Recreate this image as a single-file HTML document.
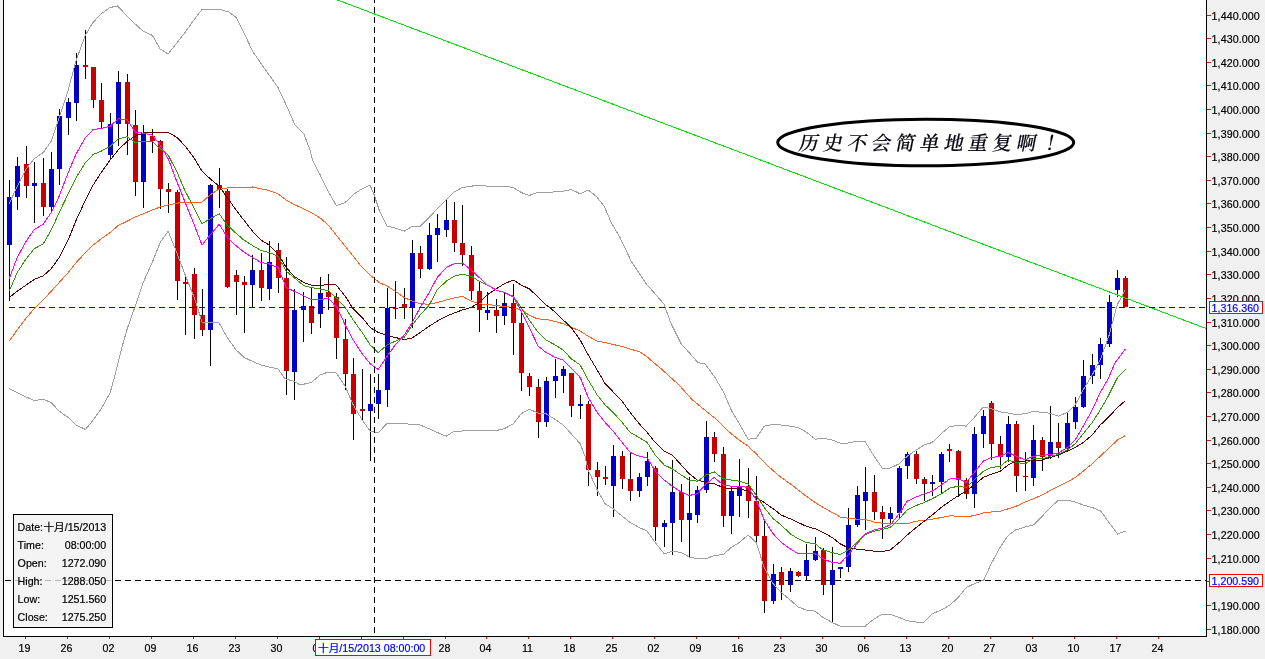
<!DOCTYPE html><html><head><meta charset="utf-8"><title>chart</title><style>
html,body{margin:0;padding:0;background:#f0f0f0;}body{width:1265px;height:659px;overflow:hidden;}svg{display:block}
text{font-family:"Liberation Sans","Noto Sans CJK SC",sans-serif;font-size:10.67px;stroke:#000;stroke-width:.2px}.b{fill:#0000ff;stroke:#0000ff}
.k{font-weight:500;font-family:"Liberation Serif","Noto Serif CJK SC",serif;font-size:19.5px;}
</style></head><body>
<svg width="1265" height="659" viewBox="0 0 1265 659">
<rect x="0" y="0" width="1265" height="659" fill="#f0f0f0"/>
<rect x="4" y="0" width="1202" height="636" fill="#ffffff"/>
<g shape-rendering="crispEdges">
<rect x="9" y="180" width="1" height="121" fill="#000"/>
<rect x="7" y="197" width="5" height="48" fill="#0000c8"/>
<rect x="17" y="157" width="1" height="53" fill="#000"/>
<rect x="15" y="166" width="5" height="31" fill="#0000c8"/>
<rect x="26" y="146" width="1" height="52" fill="#000"/>
<rect x="24" y="164" width="5" height="22" fill="#c80000"/>
<rect x="34" y="162" width="1" height="61" fill="#000"/>
<rect x="32" y="183" width="5" height="3" fill="#0000c8"/>
<rect x="43" y="158" width="1" height="58" fill="#000"/>
<rect x="41" y="183" width="5" height="24" fill="#c80000"/>
<rect x="51" y="152" width="1" height="61" fill="#000"/>
<rect x="49" y="169" width="5" height="38" fill="#0000c8"/>
<rect x="59" y="109" width="1" height="76" fill="#000"/>
<rect x="57" y="116" width="5" height="53" fill="#0000c8"/>
<rect x="68" y="98" width="1" height="37" fill="#000"/>
<rect x="66" y="102" width="5" height="16" fill="#0000c8"/>
<rect x="76" y="53" width="1" height="68" fill="#000"/>
<rect x="74" y="65" width="5" height="38" fill="#0000c8"/>
<rect x="85" y="30" width="1" height="49" fill="#000"/>
<rect x="83" y="65" width="5" height="2" fill="#c80000"/>
<rect x="93" y="67" width="1" height="41" fill="#000"/>
<rect x="91" y="67" width="5" height="33" fill="#c80000"/>
<rect x="101" y="83" width="1" height="45" fill="#000"/>
<rect x="99" y="100" width="5" height="22" fill="#c80000"/>
<rect x="110" y="113" width="1" height="46" fill="#000"/>
<rect x="108" y="124" width="5" height="31" fill="#0000c8"/>
<rect x="118" y="71" width="1" height="75" fill="#000"/>
<rect x="116" y="82" width="5" height="42" fill="#0000c8"/>
<rect x="127" y="74" width="1" height="81" fill="#000"/>
<rect x="125" y="82" width="5" height="42" fill="#c80000"/>
<rect x="135" y="110" width="1" height="86" fill="#000"/>
<rect x="133" y="125" width="5" height="57" fill="#c80000"/>
<rect x="143" y="125" width="1" height="83" fill="#000"/>
<rect x="141" y="133" width="5" height="49" fill="#0000c8"/>
<rect x="152" y="129" width="1" height="24" fill="#000"/>
<rect x="150" y="136" width="5" height="5" fill="#c80000"/>
<rect x="160" y="140" width="1" height="69" fill="#000"/>
<rect x="158" y="141" width="5" height="48" fill="#c80000"/>
<rect x="168" y="183" width="1" height="30" fill="#000"/>
<rect x="166" y="189" width="5" height="3" fill="#c80000"/>
<rect x="177" y="190" width="1" height="110" fill="#000"/>
<rect x="175" y="192" width="5" height="89" fill="#c80000"/>
<rect x="185" y="275" width="1" height="60" fill="#000"/>
<rect x="183" y="282" width="5" height="2" fill="#c80000"/>
<rect x="194" y="268" width="1" height="71" fill="#000"/>
<rect x="192" y="274" width="5" height="41" fill="#c80000"/>
<rect x="202" y="289" width="1" height="47" fill="#000"/>
<rect x="200" y="315" width="5" height="15" fill="#c80000"/>
<rect x="210" y="184" width="1" height="182" fill="#000"/>
<rect x="208" y="185" width="5" height="145" fill="#0000c8"/>
<rect x="219" y="168" width="1" height="40" fill="#000"/>
<rect x="217" y="185" width="5" height="5" fill="#c80000"/>
<rect x="227" y="189" width="1" height="99" fill="#000"/>
<rect x="225" y="191" width="5" height="96" fill="#c80000"/>
<rect x="236" y="270" width="1" height="45" fill="#000"/>
<rect x="234" y="275" width="5" height="7" fill="#c80000"/>
<rect x="244" y="276" width="1" height="57" fill="#000"/>
<rect x="242" y="282" width="5" height="3" fill="#c80000"/>
<rect x="252" y="255" width="1" height="52" fill="#000"/>
<rect x="250" y="270" width="5" height="15" fill="#0000c8"/>
<rect x="261" y="253" width="1" height="48" fill="#000"/>
<rect x="259" y="270" width="5" height="18" fill="#c80000"/>
<rect x="269" y="241" width="1" height="59" fill="#000"/>
<rect x="267" y="262" width="5" height="27" fill="#0000c8"/>
<rect x="278" y="243" width="1" height="50" fill="#000"/>
<rect x="276" y="250" width="5" height="28" fill="#c80000"/>
<rect x="286" y="257" width="1" height="138" fill="#000"/>
<rect x="284" y="278" width="5" height="93" fill="#c80000"/>
<rect x="294" y="289" width="1" height="111" fill="#000"/>
<rect x="292" y="310" width="5" height="62" fill="#0000c8"/>
<rect x="303" y="292" width="1" height="50" fill="#000"/>
<rect x="301" y="306" width="5" height="4" fill="#0000c8"/>
<rect x="311" y="287" width="1" height="47" fill="#000"/>
<rect x="309" y="306" width="5" height="17" fill="#c80000"/>
<rect x="320" y="277" width="1" height="51" fill="#000"/>
<rect x="318" y="293" width="5" height="21" fill="#0000c8"/>
<rect x="328" y="274" width="1" height="36" fill="#000"/>
<rect x="326" y="292" width="5" height="5" fill="#c80000"/>
<rect x="336" y="293" width="1" height="66" fill="#000"/>
<rect x="334" y="297" width="5" height="41" fill="#c80000"/>
<rect x="345" y="319" width="1" height="71" fill="#000"/>
<rect x="343" y="339" width="5" height="35" fill="#c80000"/>
<rect x="353" y="358" width="1" height="82" fill="#000"/>
<rect x="351" y="374" width="5" height="40" fill="#c80000"/>
<rect x="362" y="369" width="1" height="52" fill="#000"/>
<rect x="360" y="409" width="5" height="2" fill="#c80000"/>
<rect x="370" y="374" width="1" height="87" fill="#000"/>
<rect x="368" y="404" width="5" height="7" fill="#0000c8"/>
<rect x="378" y="374" width="1" height="45" fill="#000"/>
<rect x="376" y="390" width="5" height="14" fill="#0000c8"/>
<rect x="387" y="288" width="1" height="119" fill="#000"/>
<rect x="385" y="308" width="5" height="82" fill="#0000c8"/>
<rect x="395" y="281" width="1" height="38" fill="#000"/>
<rect x="393" y="308" width="5" height="1" fill="#c80000"/>
<rect x="404" y="288" width="1" height="31" fill="#000"/>
<rect x="402" y="304" width="5" height="4" fill="#c80000"/>
<rect x="412" y="240" width="1" height="88" fill="#000"/>
<rect x="410" y="253" width="5" height="55" fill="#0000c8"/>
<rect x="420" y="246" width="1" height="32" fill="#000"/>
<rect x="418" y="253" width="5" height="16" fill="#c80000"/>
<rect x="429" y="223" width="1" height="47" fill="#000"/>
<rect x="427" y="235" width="5" height="34" fill="#0000c8"/>
<rect x="437" y="214" width="1" height="48" fill="#000"/>
<rect x="435" y="228" width="5" height="7" fill="#0000c8"/>
<rect x="446" y="199" width="1" height="38" fill="#000"/>
<rect x="444" y="220" width="5" height="10" fill="#0000c8"/>
<rect x="454" y="202" width="1" height="50" fill="#000"/>
<rect x="452" y="220" width="5" height="23" fill="#c80000"/>
<rect x="462" y="205" width="1" height="61" fill="#000"/>
<rect x="460" y="243" width="5" height="12" fill="#c80000"/>
<rect x="471" y="246" width="1" height="54" fill="#000"/>
<rect x="469" y="255" width="5" height="36" fill="#c80000"/>
<rect x="479" y="282" width="1" height="50" fill="#000"/>
<rect x="477" y="291" width="5" height="19" fill="#c80000"/>
<rect x="487" y="292" width="1" height="28" fill="#000"/>
<rect x="485" y="310" width="5" height="3" fill="#0000c8"/>
<rect x="496" y="299" width="1" height="34" fill="#000"/>
<rect x="494" y="310" width="5" height="6" fill="#c80000"/>
<rect x="504" y="293" width="1" height="32" fill="#000"/>
<rect x="502" y="303" width="5" height="13" fill="#0000c8"/>
<rect x="513" y="284" width="1" height="71" fill="#000"/>
<rect x="511" y="303" width="5" height="20" fill="#c80000"/>
<rect x="521" y="310" width="1" height="81" fill="#000"/>
<rect x="519" y="323" width="5" height="50" fill="#c80000"/>
<rect x="529" y="373" width="1" height="23" fill="#000"/>
<rect x="527" y="376" width="5" height="11" fill="#c80000"/>
<rect x="538" y="379" width="1" height="59" fill="#000"/>
<rect x="536" y="387" width="5" height="35" fill="#c80000"/>
<rect x="546" y="377" width="1" height="50" fill="#000"/>
<rect x="544" y="381" width="5" height="41" fill="#0000c8"/>
<rect x="555" y="359" width="1" height="39" fill="#000"/>
<rect x="553" y="376" width="5" height="5" fill="#0000c8"/>
<rect x="563" y="366" width="1" height="27" fill="#000"/>
<rect x="561" y="369" width="5" height="7" fill="#0000c8"/>
<rect x="571" y="373" width="1" height="44" fill="#000"/>
<rect x="569" y="373" width="5" height="33" fill="#c80000"/>
<rect x="580" y="395" width="1" height="24" fill="#000"/>
<rect x="578" y="404" width="5" height="2" fill="#0000c8"/>
<rect x="588" y="401" width="1" height="85" fill="#000"/>
<rect x="586" y="404" width="5" height="66" fill="#c80000"/>
<rect x="597" y="462" width="1" height="34" fill="#000"/>
<rect x="595" y="470" width="5" height="7" fill="#c80000"/>
<rect x="605" y="466" width="1" height="19" fill="#000"/>
<rect x="603" y="477" width="5" height="2" fill="#c80000"/>
<rect x="613" y="445" width="1" height="72" fill="#000"/>
<rect x="611" y="456" width="5" height="30" fill="#0000c8"/>
<rect x="622" y="451" width="1" height="38" fill="#000"/>
<rect x="620" y="456" width="5" height="23" fill="#c80000"/>
<rect x="630" y="452" width="1" height="49" fill="#000"/>
<rect x="628" y="479" width="5" height="12" fill="#c80000"/>
<rect x="639" y="473" width="1" height="24" fill="#000"/>
<rect x="637" y="477" width="5" height="14" fill="#0000c8"/>
<rect x="647" y="452" width="1" height="34" fill="#000"/>
<rect x="645" y="461" width="5" height="16" fill="#0000c8"/>
<rect x="655" y="466" width="1" height="75" fill="#000"/>
<rect x="653" y="468" width="5" height="59" fill="#c80000"/>
<rect x="664" y="520" width="1" height="27" fill="#000"/>
<rect x="662" y="523" width="5" height="4" fill="#0000c8"/>
<rect x="672" y="460" width="1" height="95" fill="#000"/>
<rect x="670" y="492" width="5" height="31" fill="#0000c8"/>
<rect x="681" y="484" width="1" height="58" fill="#000"/>
<rect x="679" y="492" width="5" height="28" fill="#c80000"/>
<rect x="689" y="477" width="1" height="80" fill="#000"/>
<rect x="687" y="513" width="5" height="7" fill="#0000c8"/>
<rect x="697" y="486" width="1" height="37" fill="#000"/>
<rect x="695" y="490" width="5" height="25" fill="#0000c8"/>
<rect x="706" y="421" width="1" height="72" fill="#000"/>
<rect x="704" y="437" width="5" height="53" fill="#0000c8"/>
<rect x="714" y="432" width="1" height="30" fill="#000"/>
<rect x="712" y="437" width="5" height="17" fill="#c80000"/>
<rect x="723" y="447" width="1" height="80" fill="#000"/>
<rect x="721" y="454" width="5" height="62" fill="#c80000"/>
<rect x="731" y="486" width="1" height="48" fill="#000"/>
<rect x="729" y="491" width="5" height="25" fill="#0000c8"/>
<rect x="739" y="459" width="1" height="58" fill="#000"/>
<rect x="737" y="486" width="5" height="10" fill="#0000c8"/>
<rect x="748" y="468" width="1" height="50" fill="#000"/>
<rect x="746" y="486" width="5" height="15" fill="#c80000"/>
<rect x="756" y="476" width="1" height="68" fill="#000"/>
<rect x="754" y="501" width="5" height="35" fill="#c80000"/>
<rect x="764" y="520" width="1" height="93" fill="#000"/>
<rect x="762" y="536" width="5" height="65" fill="#c80000"/>
<rect x="773" y="564" width="1" height="40" fill="#000"/>
<rect x="771" y="574" width="5" height="27" fill="#0000c8"/>
<rect x="781" y="567" width="1" height="33" fill="#000"/>
<rect x="779" y="572" width="5" height="13" fill="#c80000"/>
<rect x="790" y="568" width="1" height="24" fill="#000"/>
<rect x="788" y="571" width="5" height="14" fill="#0000c8"/>
<rect x="798" y="571" width="1" height="6" fill="#000"/>
<rect x="796" y="572" width="5" height="4" fill="#c80000"/>
<rect x="806" y="544" width="1" height="37" fill="#000"/>
<rect x="804" y="560" width="5" height="16" fill="#0000c8"/>
<rect x="815" y="537" width="1" height="24" fill="#000"/>
<rect x="813" y="551" width="5" height="9" fill="#0000c8"/>
<rect x="823" y="548" width="1" height="47" fill="#000"/>
<rect x="821" y="550" width="5" height="35" fill="#c80000"/>
<rect x="832" y="547" width="1" height="76" fill="#000"/>
<rect x="830" y="570" width="5" height="15" fill="#0000c8"/>
<rect x="840" y="567" width="1" height="11" fill="#000"/>
<rect x="838" y="567" width="5" height="2" fill="#0000c8"/>
<rect x="848" y="508" width="1" height="64" fill="#000"/>
<rect x="846" y="525" width="5" height="42" fill="#0000c8"/>
<rect x="857" y="486" width="1" height="41" fill="#000"/>
<rect x="855" y="495" width="5" height="30" fill="#0000c8"/>
<rect x="865" y="467" width="1" height="63" fill="#000"/>
<rect x="863" y="492" width="5" height="9" fill="#0000c8"/>
<rect x="874" y="475" width="1" height="45" fill="#000"/>
<rect x="872" y="492" width="5" height="20" fill="#c80000"/>
<rect x="882" y="506" width="1" height="33" fill="#000"/>
<rect x="880" y="512" width="5" height="7" fill="#c80000"/>
<rect x="890" y="507" width="1" height="17" fill="#000"/>
<rect x="888" y="513" width="5" height="6" fill="#0000c8"/>
<rect x="899" y="466" width="1" height="52" fill="#000"/>
<rect x="897" y="468" width="5" height="45" fill="#0000c8"/>
<rect x="907" y="452" width="1" height="27" fill="#000"/>
<rect x="905" y="454" width="5" height="12" fill="#0000c8"/>
<rect x="916" y="451" width="1" height="33" fill="#000"/>
<rect x="914" y="454" width="5" height="25" fill="#c80000"/>
<rect x="924" y="477" width="1" height="24" fill="#000"/>
<rect x="922" y="479" width="5" height="5" fill="#c80000"/>
<rect x="932" y="475" width="1" height="21" fill="#000"/>
<rect x="930" y="482" width="5" height="2" fill="#0000c8"/>
<rect x="941" y="452" width="1" height="41" fill="#000"/>
<rect x="939" y="454" width="5" height="28" fill="#0000c8"/>
<rect x="949" y="444" width="1" height="18" fill="#000"/>
<rect x="947" y="449" width="5" height="2" fill="#c80000"/>
<rect x="958" y="450" width="1" height="47" fill="#000"/>
<rect x="956" y="451" width="5" height="29" fill="#c80000"/>
<rect x="966" y="478" width="1" height="21" fill="#000"/>
<rect x="964" y="480" width="5" height="14" fill="#c80000"/>
<rect x="974" y="427" width="1" height="81" fill="#000"/>
<rect x="972" y="434" width="5" height="60" fill="#0000c8"/>
<rect x="983" y="410" width="1" height="38" fill="#000"/>
<rect x="981" y="416" width="5" height="18" fill="#0000c8"/>
<rect x="991" y="401" width="1" height="59" fill="#000"/>
<rect x="989" y="403" width="5" height="41" fill="#c80000"/>
<rect x="1000" y="436" width="1" height="33" fill="#000"/>
<rect x="998" y="444" width="5" height="13" fill="#c80000"/>
<rect x="1008" y="416" width="1" height="46" fill="#000"/>
<rect x="1006" y="424" width="5" height="33" fill="#0000c8"/>
<rect x="1016" y="421" width="1" height="71" fill="#000"/>
<rect x="1014" y="424" width="5" height="52" fill="#c80000"/>
<rect x="1025" y="452" width="1" height="39" fill="#000"/>
<rect x="1023" y="476" width="5" height="1" fill="#c80000"/>
<rect x="1033" y="425" width="1" height="61" fill="#000"/>
<rect x="1031" y="440" width="5" height="38" fill="#0000c8"/>
<rect x="1042" y="437" width="1" height="34" fill="#000"/>
<rect x="1040" y="440" width="5" height="17" fill="#c80000"/>
<rect x="1050" y="406" width="1" height="53" fill="#000"/>
<rect x="1048" y="442" width="5" height="14" fill="#0000c8"/>
<rect x="1058" y="423" width="1" height="35" fill="#000"/>
<rect x="1056" y="442" width="5" height="6" fill="#c80000"/>
<rect x="1067" y="413" width="1" height="37" fill="#000"/>
<rect x="1065" y="423" width="5" height="25" fill="#0000c8"/>
<rect x="1075" y="397" width="1" height="32" fill="#000"/>
<rect x="1073" y="407" width="5" height="15" fill="#0000c8"/>
<rect x="1083" y="360" width="1" height="48" fill="#000"/>
<rect x="1081" y="376" width="5" height="31" fill="#0000c8"/>
<rect x="1092" y="354" width="1" height="30" fill="#000"/>
<rect x="1090" y="365" width="5" height="11" fill="#0000c8"/>
<rect x="1100" y="338" width="1" height="41" fill="#000"/>
<rect x="1098" y="344" width="5" height="21" fill="#0000c8"/>
<rect x="1109" y="295" width="1" height="52" fill="#000"/>
<rect x="1107" y="302" width="5" height="42" fill="#0000c8"/>
<rect x="1117" y="270" width="1" height="27" fill="#000"/>
<rect x="1115" y="278" width="5" height="12" fill="#0000c8"/>
<rect x="1125" y="276" width="1" height="31" fill="#000"/>
<rect x="1123" y="278" width="5" height="29" fill="#c80000"/>
</g>
<g>
<line x1="337.5" y1="0" x2="1206" y2="328.5" stroke="#00e600" stroke-width="1" shape-rendering="crispEdges"/>
<polyline points="9.2,203.8 17.2,186.2 26.2,168.8 34.2,158.8 43.2,152.5 51.2,141.2 59.2,117.5 67.5,92.5 76.2,60.0 85.5,35.0 92.5,23.0 101.2,13.8 110.0,7.5 117.5,6.0 125.0,13.8 135.0,23.8 143.2,31.2 152.5,35.5 160.0,48.8 168.0,54.0 176.2,43.8 185.0,32.5 193.8,20.0 202.0,9.5 211.2,9.2 220.0,9.5 228.8,12.0 236.2,17.5 245.0,35.0 253.0,52.0 261.2,63.8 270.0,76.2 278.0,87.5 286.2,105.0 295.0,125.0 303.8,133.8 310.0,150.0 312.5,160.0 320.2,175.0 328.2,191.2 336.2,205.5 345.2,202.5 354.2,193.8 362.2,188.8 370.0,185.0 374.2,195.0 379.2,210.0 387.2,226.2 395.2,228.0 404.2,231.2 412.2,226.5 420.2,226.2 429.2,217.5 437.2,208.8 446.2,200.0 454.2,192.0 462.2,187.5 471.2,186.2 479.2,185.0 487.2,186.2 496.2,187.0 504.2,186.0 513.2,187.5 521.2,192.5 529.2,195.5 537.2,192.5 546.2,193.0 554.2,191.8 563.2,191.2 571.2,189.5 580.2,193.8 588.2,190.0 596.2,196.2 604.2,206.2 611.2,222.5 620.0,237.5 631.2,261.2 646.2,283.8 663.8,303.8 671.2,323.8 681.2,343.8 697.5,362.0 700.0,363.0 705.0,363.8 715.0,377.5 723.8,392.5 731.2,410.0 740.0,425.0 748.2,439.2 756.2,438.2 764.2,426.2 773.2,424.2 781.2,425.0 790.2,426.2 798.2,427.5 806.2,432.0 815.2,439.2 823.2,438.2 832.2,440.0 840.2,443.2 848.2,443.0 857.2,441.2 865.2,441.8 874.2,456.2 882.2,468.0 890.2,468.0 899.2,463.8 907.2,456.2 916.2,450.0 924.2,445.0 932.2,442.5 941.2,433.8 949.2,427.0 958.2,425.0 966.2,426.2 974.2,417.5 983.2,407.0 991.2,408.8 1000.0,411.8 1008.2,413.0 1015.5,414.5 1025.2,413.8 1033.2,411.2 1042.2,412.5 1050.2,413.2 1058.2,416.2 1067.2,412.5 1075.2,405.0 1083.2,390.0 1092.2,375.0 1100.2,360.0 1109.2,335.0 1117.2,305.0 1125.2,290.0" fill="none" stroke="#a0a0a0" stroke-width="1" shape-rendering="crispEdges"/>
<polyline points="9.2,388.8 17.2,392.5 26.2,397.0 34.2,400.5 43.2,399.2 51.2,402.5 59.2,411.2 68.2,417.5 76.2,425.0 85.5,429.5 93.2,420.0 101.2,408.8 110.2,392.5 115.0,375.0 121.2,350.0 127.2,328.8 135.2,306.2 143.2,282.5 152.2,262.5 160.2,242.5 168.2,231.2 177.2,253.8 185.2,275.0 194.2,297.5 202.2,322.5 210.2,322.5 219.2,323.0 227.2,337.5 236.2,350.0 244.2,357.5 252.2,361.2 261.0,365.0 269.0,367.0 278.0,368.8 285.0,378.8 294.0,381.2 300.0,385.0 311.2,382.5 320.2,375.0 328.2,372.0 336.2,373.0 345.2,386.2 353.2,405.0 362.2,420.0 370.2,431.2 378.2,433.0 387.2,423.0 395.2,423.0 404.2,423.5 412.2,424.5 420.2,425.0 429.2,428.8 437.2,432.5 446.2,436.2 454.2,431.2 462.2,431.0 471.2,430.5 479.2,430.0 487.2,430.0 496.2,430.5 504.2,428.8 513.2,423.8 521.2,413.8 529.2,409.2 538.2,413.0 546.2,413.8 555.2,419.5 563.2,425.0 571.2,433.8 580.2,443.8 585.0,456.2 588.2,470.0 597.2,490.0 605.2,503.8 613.2,508.8 622.2,516.2 630.2,522.5 639.2,527.5 647.2,531.2 655.2,542.5 664.2,553.8 672.2,551.2 681.2,552.5 689.2,557.0 697.2,558.8 706.2,558.8 714.2,555.5 723.2,554.5 731.2,547.5 739.2,542.5 748.2,535.0 756.2,542.5 764.2,567.5 773.2,583.8 781.2,592.5 790.2,600.0 798.2,607.0 806.2,610.0 815.2,611.2 823.2,617.5 832.2,622.5 840.2,626.2 848.2,626.2 857.2,626.2 865.2,626.2 874.2,618.8 882.2,614.5 890.2,614.2 899.2,617.5 907.2,620.8 916.2,622.0 924.2,622.0 932.2,613.8 941.2,610.0 950.0,605.0 958.2,597.5 966.2,587.5 974.2,583.8 983.8,580.0 991.2,563.8 1000.0,547.5 1007.5,536.2 1015.5,530.0 1025.0,527.0 1033.8,524.8 1042.2,516.2 1050.2,507.5 1058.2,500.5 1067.2,500.0 1075.2,502.0 1083.2,505.0 1092.2,507.5 1100.2,510.8 1101.3,512.0 1117.6,534.0 1125.8,531.0" fill="none" stroke="#a0a0a0" stroke-width="1" shape-rendering="crispEdges"/>
<polyline points="9.2,341.2 17.2,330.0 26.2,318.0 34.2,308.8 43.2,300.0 51.2,291.2 59.2,282.5 68.2,272.5 76.2,262.5 85.5,252.5 93.2,245.0 101.2,238.8 110.2,232.5 118.2,225.5 127.2,221.2 135.2,217.0 143.2,213.8 152.2,210.0 160.2,207.0 168.2,205.0 177.2,203.2 185.2,202.0 193.8,202.0 202.0,202.0 210.2,195.0 219.2,188.8 227.2,188.0 235.2,187.0 243.8,187.5 252.5,187.0 261.0,188.8 269.0,190.5 278.0,193.8 286.2,200.0 295.0,205.0 300.0,207.0 311.2,212.5 320.2,218.0 328.2,225.0 336.2,235.0 345.2,246.2 354.2,257.5 362.2,267.5 370.0,275.0 379.2,282.5 387.2,286.2 395.2,291.2 404.2,297.5 412.2,301.2 420.2,303.8 429.2,304.2 437.2,302.5 446.2,300.0 454.2,298.0 462.2,296.2 471.2,301.2 479.2,303.8 487.2,304.5 496.2,305.5 504.2,306.5 513.2,307.5 521.2,310.0 529.2,315.0 537.2,318.8 546.2,319.5 554.2,321.2 563.2,323.8 571.2,327.0 580.2,331.2 588.2,336.2 597.2,341.2 605.0,342.5 623.8,347.0 640.0,352.0 646.2,356.2 662.5,370.0 678.8,384.8 692.5,400.0 697.2,403.8 706.2,411.2 714.2,417.5 723.2,426.2 731.2,433.8 739.2,440.0 748.2,446.2 756.2,453.8 764.2,462.5 772.5,470.0 781.2,477.5 790.2,483.8 798.2,490.0 806.2,496.2 815.2,502.5 823.2,507.5 832.2,512.5 840.2,517.0 848.2,518.2 857.2,519.2 865.2,519.5 874.2,522.0 882.2,523.2 890.2,523.2 899.2,523.8 907.2,523.8 916.2,521.2 924.2,520.5 932.2,519.2 941.2,517.5 950.0,515.8 958.2,516.2 966.2,517.0 974.2,515.5 983.2,513.0 991.2,512.0 1000.2,511.2 1008.2,508.8 1016.2,506.2 1025.2,502.0 1033.2,498.8 1042.2,495.0 1050.2,490.5 1058.2,486.2 1067.2,482.0 1075.2,477.5 1083.2,471.2 1092.2,463.8 1100.2,456.2 1108.2,448.8 1117.5,440.0 1125.5,435.5" fill="none" stroke="#ff6020" stroke-width="1" shape-rendering="crispEdges"/>
<polyline points="9.2,297.5 17.2,291.2 26.2,285.0 34.2,279.5 43.2,275.8 51.2,268.8 59.2,257.5 68.2,240.0 76.2,220.0 85.5,200.0 93.2,185.0 101.2,172.5 110.2,160.0 118.2,150.0 127.2,141.2 135.2,136.2 143.2,133.0 152.2,132.0 160.2,132.0 168.2,132.5 177.2,137.5 185.2,146.2 193.8,157.5 202.0,171.2 210.2,178.8 219.2,186.2 227.2,197.5 235.2,208.8 243.8,220.0 252.5,231.2 261.0,240.0 269.0,245.0 278.0,253.8 286.2,267.5 294.0,276.2 303.8,282.5 311.2,285.0 320.2,285.5 328.2,284.5 336.2,285.0 345.2,296.2 353.2,308.8 362.2,317.5 370.2,327.5 378.2,332.5 387.2,335.5 395.2,337.5 404.2,339.5 412.2,338.0 420.2,332.5 429.2,326.2 437.2,321.2 446.2,316.2 454.2,313.0 462.2,310.0 471.2,307.5 479.2,302.5 487.2,295.0 496.2,288.8 504.2,283.8 513.2,280.0 521.2,285.0 529.2,288.8 537.2,296.2 546.2,305.0 554.2,311.2 563.2,320.0 571.2,327.5 580.2,340.0 588.2,355.0 597.2,370.0 605.2,383.8 621.2,400.0 630.2,412.5 639.2,423.8 647.2,432.5 655.2,442.5 664.2,451.2 672.2,455.0 681.2,465.0 689.2,473.8 697.2,480.0 706.2,482.5 714.2,483.8 723.2,487.5 731.2,488.8 739.2,488.8 748.2,491.2 756.2,497.5 764.2,502.5 773.2,508.8 781.2,515.0 790.2,518.8 798.2,522.5 806.2,526.2 815.2,528.8 823.2,532.5 832.2,537.5 840.2,543.8 848.2,548.0 857.2,549.2 865.2,550.0 874.2,551.2 882.2,551.5 890.2,550.0 899.2,542.5 907.2,535.0 916.2,527.5 924.2,521.2 932.2,515.0 941.2,507.5 950.0,501.2 958.2,495.8 966.2,491.2 974.2,485.0 983.2,477.5 991.2,474.2 1000.2,471.2 1008.2,465.0 1016.2,461.2 1025.2,461.2 1033.2,460.0 1042.2,460.0 1050.2,457.5 1058.2,455.0 1067.2,451.2 1075.2,447.5 1083.2,442.5 1092.2,435.0 1100.2,425.0 1108.2,417.5 1117.5,407.5 1125.5,400.5" fill="none" stroke="#600000" stroke-width="1" shape-rendering="crispEdges"/>
<polyline points="9.2,291.2 17.2,272.5 26.2,258.8 34.2,248.8 43.2,243.8 51.2,230.0 59.2,212.5 68.2,193.8 76.2,177.5 85.5,162.5 93.2,154.5 101.2,151.2 110.2,146.2 118.2,138.8 127.2,136.8 135.2,142.5 143.2,141.2 152.2,141.2 160.2,148.8 168.2,155.0 177.2,172.5 185.2,191.2 193.8,207.5 202.0,223.8 210.2,218.8 219.2,213.8 227.2,225.0 235.2,232.5 243.8,240.0 252.5,245.5 261.0,250.5 269.0,252.5 278.0,256.2 286.2,271.2 294.0,277.5 303.5,285.5 311.5,287.6 320.0,289.0 328.5,290.7 337.0,298.5 345.2,307.5 353.2,320.0 362.2,332.5 370.2,345.0 378.2,352.5 387.2,345.0 395.2,341.2 404.2,337.5 412.2,325.0 420.2,315.0 429.2,305.0 437.2,290.0 446.2,281.2 454.2,276.2 462.2,274.2 471.2,276.2 479.2,281.2 487.2,285.0 496.2,290.0 504.2,292.5 513.2,296.2 521.2,307.5 529.2,320.0 538.2,332.5 546.2,340.0 555.2,345.0 563.2,350.0 571.2,358.8 580.2,365.0 588.2,380.0 597.2,395.0 605.2,405.0 613.2,412.5 622.2,422.5 630.2,432.5 639.2,437.5 647.2,442.5 655.2,455.0 664.2,465.0 672.2,468.8 681.2,475.0 689.2,480.0 697.2,481.2 706.2,475.0 714.2,471.8 723.2,478.8 731.2,480.0 739.2,481.2 748.2,484.2 756.2,495.0 764.2,507.5 773.2,518.8 781.2,525.0 790.2,533.8 798.2,538.8 806.2,542.5 815.2,543.8 823.2,550.0 832.2,552.5 840.2,554.5 848.2,550.0 857.2,542.5 865.2,534.5 874.2,531.2 882.2,529.5 890.2,527.5 899.2,518.8 907.2,510.0 916.2,505.5 924.2,502.5 932.2,498.8 941.2,493.8 950.0,488.0 958.2,486.2 966.2,487.5 974.2,480.0 983.2,471.2 991.2,467.5 1000.2,466.2 1008.2,460.0 1016.2,462.5 1025.2,463.8 1033.2,458.8 1042.2,458.8 1050.2,456.2 1058.2,454.5 1067.2,450.0 1075.2,443.8 1083.2,433.8 1092.2,422.5 1100.2,410.0 1108.2,396.2 1117.5,377.5 1125.5,369.5" fill="none" stroke="#339900" stroke-width="1" shape-rendering="crispEdges"/>
<polyline points="9.2,278.8 17.2,257.5 26.2,241.2 34.2,229.5 43.2,224.2 51.2,212.5 59.2,196.2 68.2,172.5 76.2,153.8 85.5,137.5 93.2,129.5 101.2,128.5 110.2,126.2 118.2,118.8 127.2,120.0 135.2,132.0 143.2,133.2 152.2,135.0 160.2,145.0 168.2,158.8 177.2,182.5 185.2,202.5 193.8,223.8 202.0,245.0 210.2,235.0 219.2,224.2 227.2,237.0 235.2,245.0 243.8,252.0 252.5,257.5 261.0,262.5 269.0,263.8 278.0,267.5 286.2,287.5 294.0,291.2 311.5,299.8 320.0,299.4 328.5,298.5 337.0,307.5 345.2,325.0 353.2,340.0 362.2,353.8 370.2,363.8 378.2,369.5 387.2,356.2 395.2,345.0 404.2,335.0 412.2,322.5 420.2,307.5 429.2,292.5 437.2,277.5 446.2,267.5 454.2,263.8 462.2,263.0 471.2,270.0 479.2,277.5 487.2,285.0 496.2,290.0 504.2,292.5 513.2,297.0 521.2,311.2 529.2,327.5 538.2,346.2 546.2,352.5 555.2,357.5 563.2,360.0 571.2,368.0 580.2,377.5 588.2,397.5 597.2,412.5 605.2,422.5 613.2,431.2 622.2,442.5 630.2,452.5 639.2,456.2 647.2,458.0 655.2,471.2 664.2,480.0 672.2,486.2 681.2,492.0 689.2,495.5 697.2,493.8 706.2,483.8 714.2,477.5 723.2,485.0 731.2,486.2 739.2,486.2 748.2,487.5 756.2,500.0 764.2,520.0 773.2,533.8 781.2,542.5 790.2,548.8 798.2,553.8 806.2,553.8 815.2,553.8 823.2,558.8 832.2,562.5 840.2,563.2 848.2,555.0 857.2,543.8 865.2,533.8 874.2,530.0 882.2,528.0 890.2,525.0 899.2,513.8 907.2,501.2 916.2,497.0 924.2,493.8 932.2,491.2 941.2,485.0 950.0,478.8 958.2,478.8 966.2,482.5 974.2,472.5 983.2,461.2 991.2,457.5 1000.2,456.2 1008.2,452.5 1016.2,456.2 1025.2,460.0 1033.2,456.2 1042.2,455.5 1050.2,454.5 1058.2,453.0 1067.2,447.5 1075.2,440.0 1083.2,426.2 1092.2,410.0 1100.2,392.5 1108.2,378.8 1115.2,362.5 1125.2,349.2" fill="none" stroke="#ff00ff" stroke-width="1" shape-rendering="crispEdges"/>
</g>
<g shape-rendering="crispEdges" fill="none">
<line x1="9" y1="307.5" x2="1206" y2="307.5" stroke="#0000ff" stroke-dasharray="6 4"/>
<line x1="5" y1="580.5" x2="1206" y2="580.5" stroke="#000" stroke-dasharray="6 4"/>
<line x1="374.5" y1="-3" x2="374.5" y2="636" stroke="#000" stroke-dasharray="6 4"/>
</g>
<ellipse cx="925.7" cy="142.5" rx="148" ry="23.3" fill="#fff" stroke="#000" stroke-width="3"/>
<text class="k" stroke="none" transform="translate(798,149.5) skewX(-11)" x="0" y="0" fill="#000010" letter-spacing="4.7">历史不会简单地重复啊<tspan dx="4.5">！</tspan></text>
<g shape-rendering="crispEdges">
<rect x="3" y="0" width="1" height="637" fill="#000"/>
<rect x="3" y="636" width="1204" height="1" fill="#000"/>
<rect x="1206" y="0" width="1" height="637" fill="#000"/>
<rect x="1207" y="629" width="4" height="1" fill="#ff0000"/>
<rect x="1207" y="605" width="4" height="1" fill="#ff0000"/>
<rect x="1207" y="581" width="4" height="1" fill="#ff0000"/>
<rect x="1207" y="558" width="4" height="1" fill="#ff0000"/>
<rect x="1207" y="534" width="4" height="1" fill="#ff0000"/>
<rect x="1207" y="510" width="4" height="1" fill="#ff0000"/>
<rect x="1207" y="487" width="4" height="1" fill="#ff0000"/>
<rect x="1207" y="463" width="4" height="1" fill="#ff0000"/>
<rect x="1207" y="440" width="4" height="1" fill="#ff0000"/>
<rect x="1207" y="416" width="4" height="1" fill="#ff0000"/>
<rect x="1207" y="392" width="4" height="1" fill="#ff0000"/>
<rect x="1207" y="369" width="4" height="1" fill="#ff0000"/>
<rect x="1207" y="345" width="4" height="1" fill="#ff0000"/>
<rect x="1207" y="322" width="4" height="1" fill="#ff0000"/>
<rect x="1207" y="298" width="4" height="1" fill="#ff0000"/>
<rect x="1207" y="274" width="4" height="1" fill="#ff0000"/>
<rect x="1207" y="251" width="4" height="1" fill="#ff0000"/>
<rect x="1207" y="227" width="4" height="1" fill="#ff0000"/>
<rect x="1207" y="203" width="4" height="1" fill="#ff0000"/>
<rect x="1207" y="180" width="4" height="1" fill="#ff0000"/>
<rect x="1207" y="156" width="4" height="1" fill="#ff0000"/>
<rect x="1207" y="133" width="4" height="1" fill="#ff0000"/>
<rect x="1207" y="109" width="4" height="1" fill="#ff0000"/>
<rect x="1207" y="85" width="4" height="1" fill="#ff0000"/>
<rect x="1207" y="62" width="4" height="1" fill="#ff0000"/>
<rect x="1207" y="38" width="4" height="1" fill="#ff0000"/>
<rect x="1207" y="15" width="4" height="1" fill="#ff0000"/>
<rect x="25" y="637" width="1" height="2" fill="#ff0000"/>
<rect x="67" y="637" width="1" height="2" fill="#ff0000"/>
<rect x="109" y="637" width="1" height="2" fill="#ff0000"/>
<rect x="151" y="637" width="1" height="2" fill="#ff0000"/>
<rect x="193" y="637" width="1" height="2" fill="#ff0000"/>
<rect x="235" y="637" width="1" height="2" fill="#ff0000"/>
<rect x="277" y="637" width="1" height="2" fill="#ff0000"/>
<rect x="319" y="637" width="1" height="2" fill="#ff0000"/>
<rect x="361" y="637" width="1" height="2" fill="#ff0000"/>
<rect x="403" y="637" width="1" height="2" fill="#ff0000"/>
<rect x="445" y="637" width="1" height="2" fill="#ff0000"/>
<rect x="486" y="637" width="1" height="2" fill="#ff0000"/>
<rect x="528" y="637" width="1" height="2" fill="#ff0000"/>
<rect x="570" y="637" width="1" height="2" fill="#ff0000"/>
<rect x="612" y="637" width="1" height="2" fill="#ff0000"/>
<rect x="654" y="637" width="1" height="2" fill="#ff0000"/>
<rect x="696" y="637" width="1" height="2" fill="#ff0000"/>
<rect x="738" y="637" width="1" height="2" fill="#ff0000"/>
<rect x="780" y="637" width="1" height="2" fill="#ff0000"/>
<rect x="822" y="637" width="1" height="2" fill="#ff0000"/>
<rect x="864" y="637" width="1" height="2" fill="#ff0000"/>
<rect x="906" y="637" width="1" height="2" fill="#ff0000"/>
<rect x="948" y="637" width="1" height="2" fill="#ff0000"/>
<rect x="990" y="637" width="1" height="2" fill="#ff0000"/>
<rect x="1032" y="637" width="1" height="2" fill="#ff0000"/>
<rect x="1074" y="637" width="1" height="2" fill="#ff0000"/>
<rect x="1116" y="637" width="1" height="2" fill="#ff0000"/>
<rect x="1158" y="637" width="1" height="2" fill="#ff0000"/>
</g>
<text x="1211.6" y="633.8" letter-spacing="0.08">1,180.000</text>
<text x="1211.6" y="609.8" letter-spacing="0.08">1,190.000</text>
<text x="1211.6" y="585.8" letter-spacing="0.08">1,200.000</text>
<text x="1211.6" y="562.8" letter-spacing="0.08">1,210.000</text>
<text x="1211.6" y="538.8" letter-spacing="0.08">1,220.000</text>
<text x="1211.6" y="514.8" letter-spacing="0.08">1,230.000</text>
<text x="1211.6" y="491.8" letter-spacing="0.08">1,240.000</text>
<text x="1211.6" y="467.8" letter-spacing="0.08">1,250.000</text>
<text x="1211.6" y="444.8" letter-spacing="0.08">1,260.000</text>
<text x="1211.6" y="420.8" letter-spacing="0.08">1,270.000</text>
<text x="1211.6" y="396.8" letter-spacing="0.08">1,280.000</text>
<text x="1211.6" y="373.8" letter-spacing="0.08">1,290.000</text>
<text x="1211.6" y="349.8" letter-spacing="0.08">1,300.000</text>
<text x="1211.6" y="326.8" letter-spacing="0.08">1,310.000</text>
<text x="1211.6" y="302.8" letter-spacing="0.08">1,320.000</text>
<text x="1211.6" y="278.8" letter-spacing="0.08">1,330.000</text>
<text x="1211.6" y="255.8" letter-spacing="0.08">1,340.000</text>
<text x="1211.6" y="231.8" letter-spacing="0.08">1,350.000</text>
<text x="1211.6" y="207.8" letter-spacing="0.08">1,360.000</text>
<text x="1211.6" y="184.8" letter-spacing="0.08">1,370.000</text>
<text x="1211.6" y="160.8" letter-spacing="0.08">1,380.000</text>
<text x="1211.6" y="137.8" letter-spacing="0.08">1,390.000</text>
<text x="1211.6" y="113.8" letter-spacing="0.08">1,400.000</text>
<text x="1211.6" y="89.8" letter-spacing="0.08">1,410.000</text>
<text x="1211.6" y="66.8" letter-spacing="0.08">1,420.000</text>
<text x="1211.6" y="42.8" letter-spacing="0.08">1,430.000</text>
<text x="1211.6" y="19.8" letter-spacing="0.08">1,440.000</text>
<text x="24.5" y="652" text-anchor="middle" font-size="11">19</text>
<text x="66.5" y="652" text-anchor="middle" font-size="11">26</text>
<text x="108.5" y="652" text-anchor="middle" font-size="11">02</text>
<text x="150.5" y="652" text-anchor="middle" font-size="11">09</text>
<text x="192.5" y="652" text-anchor="middle" font-size="11">16</text>
<text x="234.5" y="652" text-anchor="middle" font-size="11">23</text>
<text x="276.5" y="652" text-anchor="middle" font-size="11">30</text>
<text x="318.5" y="652" text-anchor="middle" font-size="11">07</text>
<text x="360.5" y="652" text-anchor="middle" font-size="11">14</text>
<text x="402.5" y="652" text-anchor="middle" font-size="11">21</text>
<text x="444.5" y="652" text-anchor="middle" font-size="11">28</text>
<text x="485.5" y="652" text-anchor="middle" font-size="11">04</text>
<text x="527.5" y="652" text-anchor="middle" font-size="11">11</text>
<text x="569.5" y="652" text-anchor="middle" font-size="11">18</text>
<text x="611.5" y="652" text-anchor="middle" font-size="11">25</text>
<text x="653.5" y="652" text-anchor="middle" font-size="11">02</text>
<text x="695.5" y="652" text-anchor="middle" font-size="11">09</text>
<text x="737.5" y="652" text-anchor="middle" font-size="11">16</text>
<text x="779.5" y="652" text-anchor="middle" font-size="11">23</text>
<text x="821.5" y="652" text-anchor="middle" font-size="11">30</text>
<text x="863.5" y="652" text-anchor="middle" font-size="11">06</text>
<text x="905.5" y="652" text-anchor="middle" font-size="11">13</text>
<text x="947.5" y="652" text-anchor="middle" font-size="11">20</text>
<text x="989.5" y="652" text-anchor="middle" font-size="11">27</text>
<text x="1031.5" y="652" text-anchor="middle" font-size="11">03</text>
<text x="1073.5" y="652" text-anchor="middle" font-size="11">10</text>
<text x="1115.5" y="652" text-anchor="middle" font-size="11">17</text>
<text x="1157.5" y="652" text-anchor="middle" font-size="11">24</text>
<rect x="1209.5" y="301.5" width="53" height="12" fill="#fff" stroke="#ff0000" shape-rendering="crispEdges"/>
<text x="1211.6" y="311.8" class="b">1,316.360</text>
<rect x="1209.5" y="574.5" width="53" height="12" fill="#fff" stroke="#ff0000" shape-rendering="crispEdges"/>
<text x="1211.6" y="584.8" class="b">1,200.590</text>
<rect x="315.5" y="639.5" width="115" height="16" fill="#fff" stroke="#ff0000" shape-rendering="crispEdges"/>
<text x="318" y="651.8" class="b">十月/15/2013 08:00:00</text>
<rect x="13.5" y="514.5" width="99" height="113" fill="#f0f0f0" fill-opacity="0.75" stroke="#000" shape-rendering="crispEdges"/>
<text x="17.6" y="531">Date:</text><text x="106.2" y="531" text-anchor="end">十月/15/2013</text>
<text x="17.6" y="549">Time:</text><text x="106.2" y="549" text-anchor="end">08:00:00</text>
<text x="17.6" y="567">Open:</text><text x="106.2" y="567" text-anchor="end">1272.090</text>
<text x="17.6" y="585">High:</text><text x="106.2" y="585" text-anchor="end">1288.050</text>
<text x="17.6" y="603">Low:</text><text x="106.2" y="603" text-anchor="end">1251.560</text>
<text x="17.6" y="621">Close:</text><text x="106.2" y="621" text-anchor="end">1275.250</text>
</svg></body></html>
